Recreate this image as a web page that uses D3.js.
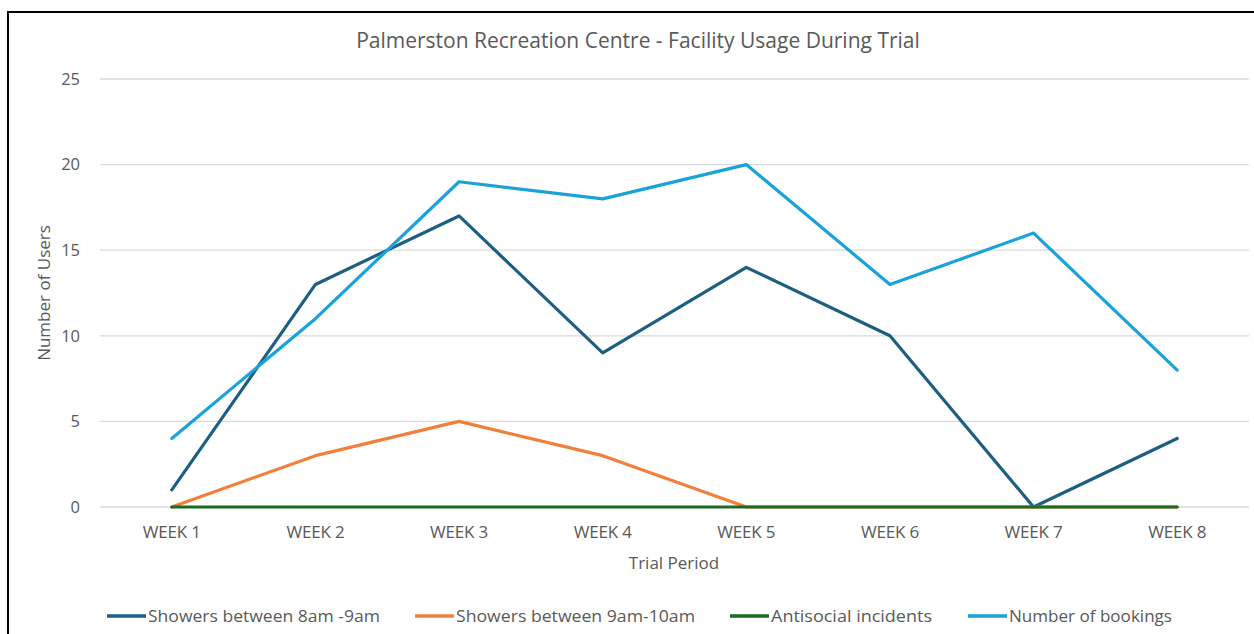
<!DOCTYPE html>
<html><head><meta charset="utf-8">
<script src="https://cdn.jsdelivr.net/npm/d3@7"></script>
<style>body{margin:0;background:#fff;}svg{display:block;font-family:"Open Sans",sans-serif;}</style>
</head><body>
<svg id="c" width="1254" height="634"></svg>
<script>
const categories = ["WEEK 1","WEEK 2","WEEK 3","WEEK 4","WEEK 5","WEEK 6","WEEK 7","WEEK 8"];
const showers8to9 = [1,13,17,9,14,10,0,4];
const showers9to10 = [0,3,5,3,0,0,0,0];
const antisocial = [0,0,0,0,0,0,0,0];
const bookings = [4,11,19,18,20,13,16,8];
const yTicks = [0,5,10,15,20,25];
const seriesNames = ["Showers between 8am -9am","Showers between 9am-10am","Antisocial incidents","Number of bookings"];
const seriesColors = ["#1d5f80","#f0803c","#1a6b24","#1aa3da"];
const seriesData = [showers8to9, showers9to10, antisocial, bookings];

const svg = d3.select("#c");
svg.append("rect").attr("x",8).attr("y",12).attr("width",1260).attr("height",640)
  .attr("fill","#fff").attr("stroke","#000").attr("stroke-width",2);

const m={l:100,r:1249,t:79,b:507};
const x=d3.scaleBand().domain(categories).range([m.l,m.r]);
const y=d3.scaleLinear().domain([0,25]).range([m.b,m.t]);

svg.append("g").selectAll("line").data(yTicks).join("line")
  .attr("x1",m.l).attr("x2",m.r).attr("y1",d=>y(d)).attr("y2",d=>y(d))
  .attr("stroke","#d9d9d9").attr("stroke-width",1.3);

const yAxis=svg.append("g").attr("transform",`translate(${m.l-20},0)`)
  .call(d3.axisLeft(y).tickValues(yTicks).tickSize(0).tickPadding(0));
yAxis.select(".domain").remove();
yAxis.selectAll("text").attr("fill","#595959").style("font-size","16.5px").style("font-family","'Open Sans',sans-serif");

const xAxis=svg.append("g").attr("transform",`translate(0,${m.b+16})`)
  .call(d3.axisBottom(x).tickSize(0).tickPadding(3));
xAxis.select(".domain").remove();
xAxis.selectAll("text").attr("fill","#595959").style("font-size","17px").style("font-family","'Open Sans',sans-serif").attr("letter-spacing","-0.2");

const line=d3.line().x((d,i)=>x(categories[i])+x.bandwidth()/2).y(d=>y(d));
seriesData.forEach((s,k)=>{
  svg.append("path").datum(s).attr("d",line)
    .attr("fill","none").attr("stroke",seriesColors[k]).attr("stroke-width",3.2)
    .attr("stroke-linejoin","round").attr("stroke-linecap","round");
});

svg.append("text").attr("x",638).attr("y",48).attr("text-anchor","middle")
  .attr("fill","#595959").style("font-size","21px").text("Palmerston Recreation Centre - Facility Usage During Trial");
svg.append("text").attr("transform","translate(50,293) rotate(-90)").attr("text-anchor","middle")
  .attr("fill","#595959").style("font-size","17px").text("Number of Users");
svg.append("text").attr("x",674).attr("y",569).attr("text-anchor","middle")
  .attr("fill","#595959").style("font-size","17px").text("Trial Period");

const legX=[107,415,730,968];
const legTextW=[232,239,161,163];
const lg=svg.append("g");
seriesNames.forEach((n,i)=>{
  lg.append("line").attr("x1",legX[i]).attr("x2",legX[i]+39).attr("y1",616).attr("y2",616)
    .attr("stroke",seriesColors[i]).attr("stroke-width",3.5);
  lg.append("text").attr("x",legX[i]+41).attr("y",622).attr("fill","#595959")
    .style("font-size","17px").attr("textLength",legTextW[i]).attr("lengthAdjust","spacingAndGlyphs").text(n);
});
</script>
</body></html>
